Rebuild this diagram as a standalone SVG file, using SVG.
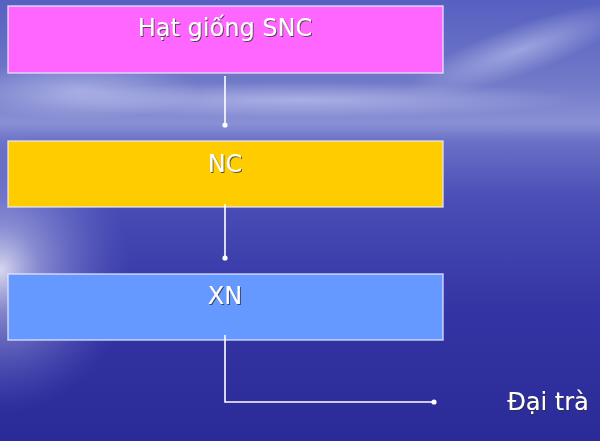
<svg xmlns="http://www.w3.org/2000/svg" width="600" height="441" viewBox="0 0 600 441">
<defs>
<linearGradient id="bg" x1="0" y1="0" x2="0" y2="1">
<stop offset="0" stop-color="#5660c0"/>
<stop offset="0.18" stop-color="#7078c8"/>
<stop offset="0.28" stop-color="#8a90d4"/>
<stop offset="0.32" stop-color="#6a70c6"/>
<stop offset="0.45" stop-color="#4a4eb6"/>
<stop offset="0.7" stop-color="#3434a4"/>
<stop offset="1" stop-color="#2a2a98"/>
</linearGradient>
<radialGradient id="glow" gradientUnits="userSpaceOnUse" cx="0" cy="270" r="130" gradientTransform="translate(0 270) scale(1 1.1) translate(0 -270)">
<stop offset="0" stop-color="#ffffff" stop-opacity="0.8"/>
<stop offset="0.3" stop-color="#d0d4f4" stop-opacity="0.5"/>
<stop offset="1" stop-color="#8088d8" stop-opacity="0"/>
</radialGradient>
<radialGradient id="cloud" cx="0.5" cy="0.5" r="0.5">
<stop offset="0" stop-color="#e0e4ff" stop-opacity="0.45"/>
<stop offset="1" stop-color="#e0e4ff" stop-opacity="0"/>
</radialGradient>
<marker id="dot" markerWidth="6" markerHeight="6" refX="3" refY="3" markerUnits="userSpaceOnUse">
<circle cx="3" cy="3" r="2.6" fill="#ffffff"/>
</marker>
<filter id="sh" x="-10%" y="-10%" width="120%" height="130%">
<feDropShadow dx="1" dy="1" stdDeviation="0.4" flood-color="#333" flood-opacity="0.8"/>
</filter>
</defs>
<style>
.box{stroke:#e8e8ff;stroke-opacity:0.8;stroke-width:1.5}
.lbl{font-family:"DejaVu Sans","Liberation Sans",sans-serif;font-size:24px;fill:#ffffff;text-anchor:middle;filter:url(#sh)}
.conn{stroke:#ffffff;stroke-width:1.6;fill:none;marker-end:url(#dot)}
</style>
<g id="background">
<rect x="0" y="0" width="600" height="441" fill="url(#bg)"/>
<ellipse cx="520" cy="50" rx="120" ry="25" fill="url(#cloud)" transform="rotate(-20 520 50)"/>
<ellipse cx="300" cy="100" rx="280" ry="18" fill="url(#cloud)"/>
<ellipse cx="80" cy="90" rx="120" ry="30" fill="url(#cloud)"/>
<rect x="0" y="0" width="600" height="441" fill="url(#glow)"/>
</g>
<g id="node-hat-giong">
<rect class="box" x="8" y="6" width="435" height="67" fill="#ff66ff"/>
<text class="lbl" x="225" y="36">Hạt giống SNC</text>
</g>
<g id="node-nc">
<rect class="box" x="8" y="141" width="435" height="66" fill="#ffcc00"/>
<text class="lbl" x="225" y="172">NC</text>
</g>
<g id="node-xn">
<rect class="box" x="8" y="274" width="435" height="66" fill="#6699ff"/>
<text class="lbl" x="225" y="304">XN</text>
</g>
<g id="node-dai-tra">
<text class="lbl" x="548" y="410">Đại trà</text>
</g>
<g id="connectors">
<path class="conn" d="M225 76 V125"/>
<path class="conn" d="M225 204 V258"/>
<path class="conn" d="M225 335 V402 H434"/>
</g>
</svg>
